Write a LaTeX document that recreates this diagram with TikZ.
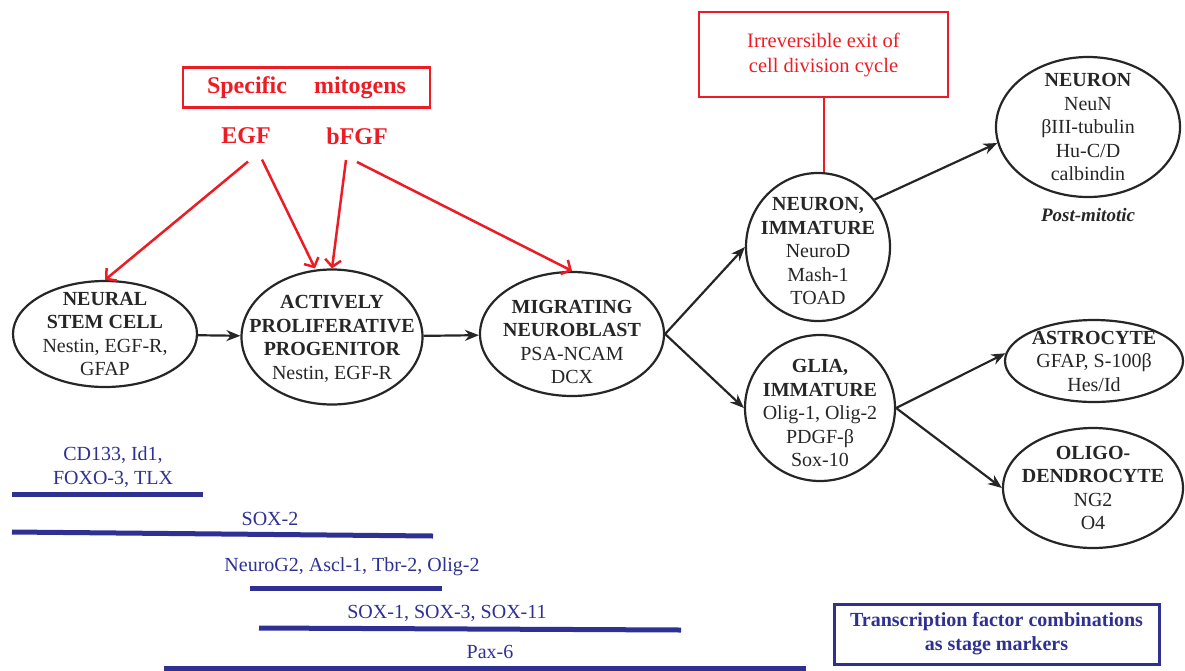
\documentclass[tikz,border=0pt]{standalone}
\usepackage{fontspec}
\setmainfont{Liberation Serif}
\usetikzlibrary{shapes.geometric,arrows.meta}
\definecolor{mitored}{RGB}{237,28,36}
\definecolor{tfblue}{RGB}{46,49,146}
\tikzset{
  cell/.style={ellipse, draw=black!85, line width=2.2pt, inner sep=0pt},
  celltext/.style={align=center, text=black!85, font=\fontsize{20}{23.5}\selectfont},
  stagearrow/.style={black!85, line width=2.2pt, -{Stealth[length=14pt,width=11pt]}},
  mitoarrow/.style={mitored, line width=2.5pt, -{Straight Barb[length=7pt,width=16pt]}},
  mitotext/.style={text=mitored, font=\bfseries\fontsize{24}{28}\selectfont},
  tfbar/.style={tfblue, line width=5pt},
  tftext/.style={text=tfblue, align=center, font=\fontsize{20}{24}\selectfont}
}
\begin{document}
\begin{tikzpicture}[x=1pt,y=-1pt]
            \useasboundingbox (0,0) rectangle (1185,670);
            % Estagios (elipses)
            \node at (105,334) (stem) [cell, minimum width=184pt, minimum height=106pt,
              label={[celltext]center:{\textbf{NEURAL}\\\textbf{STEM CELL}\\Nestin, EGF-R,\\GFAP}}] {};
            \node at (332,337) (prog) [cell, minimum width=181pt, minimum height=135pt,
              label={[celltext,yshift=-2pt]center:{\textbf{ACTIVELY}\\\textbf{PROLIFERATIVE}\\\textbf{PROGENITOR}\\Nestin, EGF-R}}] {};
            \node at (572,334) (nb) [cell, minimum width=184pt, minimum height=124pt,
              label={[celltext,yshift=-8pt]center:{\textbf{MIGRATING}\\\textbf{NEUROBLAST}\\PSA-NCAM\\DCX}}] {};
            \node at (818,247) (nimm) [cell, minimum width=144pt, minimum height=148pt,
              label={[celltext,yshift=-4pt]center:{\textbf{NEURON,}\\\textbf{IMMATURE}\\NeuroD\\Mash-1\\TOAD}}] {};
            \node at (820,408) (glia) [cell, minimum width=150pt, minimum height=146pt,
              label={[celltext,yshift=-5pt]center:{\textbf{GLIA,}\\\textbf{IMMATURE}\\Olig-1, Olig-2\\PDGF-β\\Sox-10}}] {};
            \node at (1088,127) (neuron) [cell, minimum width=184pt, minimum height=140pt,
              label={[celltext]center:{\textbf{NEURON}\\NeuN\\βIII-tubulin\\Hu-C/D\\calbindin}}] {};
            \node at (1094,361) (astro) [cell, minimum width=178pt, minimum height=82pt,
              label={[celltext]center:{\textbf{ASTROCYTE}\\GFAP, S-100β\\Hes/Id}}] {};
            \node at (1093,488) (oligo) [cell, minimum width=180pt, minimum height=120pt,
              label={[celltext]center:{\textbf{OLIGO-}\\\textbf{DENDROCYTE}\\NG2\\O4}}] {};
            \node at (1088,215) (postmit) [text=black!85, font=\bfseries\itshape\fontsize{19}{23}\selectfont] {Post-mitotic};
            \draw[stagearrow] (stem) -- (prog);
            \draw[stagearrow] (prog) -- (nb);
            \draw[stagearrow] (nb.east) -- (nimm.west);
            \draw[stagearrow] (nb.east) -- (glia.west);
            \draw[stagearrow] (nimm.40) -- (neuron.190);
            \draw[stagearrow] (glia.east) -- (astro.175);
            \draw[stagearrow] (glia.east) -- (oligo.west);
            % Mitogenos - vermelho
            \node at (306.5,87.5) (mitogens) [draw=mitored, line width=2.5pt, minimum width=247pt, minimum height=40pt, mitotext] {Specific\hspace{21pt} mitogens};
            \node at (246,136) (egf) [mitotext] {EGF};
            \node at (357,136) (bfgf) [mitotext] {bFGF};
            \draw[mitoarrow] ([xshift=2pt,yshift=-14pt]egf.south) -- (stem.north);
            \draw[mitoarrow] ([xshift=16pt,yshift=-12pt]egf.south) -- ([xshift=-17pt]prog.north);
            \draw[mitoarrow] ([xshift=-11pt,yshift=-12pt]bfgf.south) -- (prog.north);
            \draw[mitoarrow] ([yshift=-14pt]bfgf.south) -- (nb.north);
            \node at (823.5,54.5) (exitbox) [draw=mitored, line width=2pt, minimum width=249pt, minimum height=85pt, text=mitored, align=center, font=\fontsize{20.5}{25}\selectfont] {Irreversible exit of\\cell division cycle};
            \draw[mitored, line width=2pt] (exitbox.south) -- (exitbox.south |- nimm.north);
            % Fatores de transcricao - azul
            \node at (113,467) (tfstem) [tftext] {CD133, Id1,\\FOXO-3, TLX};
            \draw[tfbar] (12,494) -- (203,494);
            \node at (270,519) (tfsox2) [tftext] {SOX-2};
            \draw[tfbar] (12,532) -- (433,536);
            \node at (352,567) (tfprog) [tftext] {NeuroG2, Ascl-1, Tbr-2, Olig-2};
            \draw[tfbar] (250,588) -- (442,588);
            \node at (447,613) (tfsox) [tftext] {SOX-1, SOX-3, SOX-11};
            \draw[tfbar] (259,628) -- (681,630);
            \node at (490,652) (tfpax) [tftext] {Pax-6};
            \draw[tfbar] (164,668) -- (806,668);
            \node at (996.5,634) (legend) [draw=tfblue, line width=3pt, minimum width=325pt, minimum height=60pt, text=tfblue, align=center, font=\bfseries\fontsize{20}{24}\selectfont] {Transcription factor combinations\\as stage markers};
        \end{tikzpicture}
\end{document}
